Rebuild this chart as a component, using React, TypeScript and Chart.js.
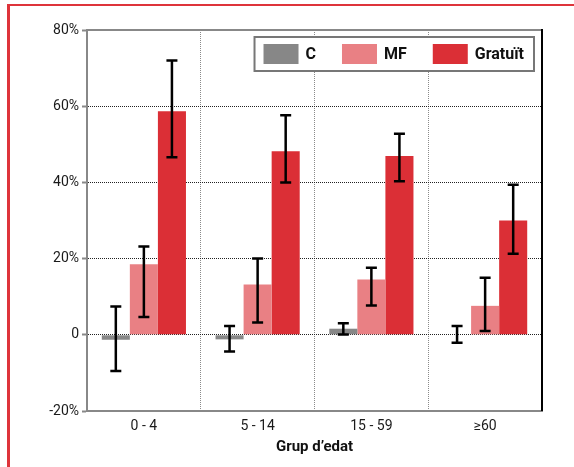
import React, { useEffect, useRef } from 'react';
import { Chart, registerables } from 'chart.js';

Chart.register(...registerables);

const categories = ['0 - 4', '5 - 14', '15 - 59', '≥60'];
const seriesNames = ['C', 'MF', 'Gratuït'];
const seriesColors = ['#878787', '#E98084', '#DB2F36'];
const cValues = [-1.3, -1.2, 1.6, 0];
const cLow = [-9.5, -4.4, 0.1, -2.1];
const cHigh = [7.4, 2.3, 3.0, 2.3];
const mfValues = [18.5, 13.2, 14.5, 7.6];
const mfLow = [4.7, 3.2, 7.7, 1.0];
const mfHigh = [23.2, 20.0, 17.6, 15.0];
const grValues = [58.7, 48.2, 46.9, 30.0];
const grLow = [46.6, 40.0, 40.3, 21.3];
const grHigh = [72.0, 57.6, 52.8, 39.4];
const yTicks = [-20, 0, 20, 40, 60, 80];
const yTickLabels = ['-20%', '0', '20%', '40%', '60%', '80%'];
const xAxisTitle = 'Grup d’edat';

const FONT = 'Roboto';

const errorBarPlugin = {
  id: 'errorBars',
  afterDatasetsDraw(chart: any) {
    const { ctx } = chart;
    const yScale = chart.scales.y;
    chart.data.datasets.forEach((ds: any, i: number) => {
      const meta = chart.getDatasetMeta(i);
      meta.data.forEach((bar: any, j: number) => {
        const lo = ds.errLow[j];
        const hi = ds.errHigh[j];
        const x = bar.x;
        const y1 = yScale.getPixelForValue(lo);
        const y2 = yScale.getPixelForValue(hi);
        ctx.save();
        ctx.strokeStyle = '#000';
        ctx.lineWidth = 2.5;
        ctx.beginPath();
        ctx.moveTo(x, y1);
        ctx.lineTo(x, y2);
        ctx.moveTo(x - 5.5, y1);
        ctx.lineTo(x + 5.5, y1);
        ctx.moveTo(x - 5.5, y2);
        ctx.lineTo(x + 5.5, y2);
        ctx.stroke();
        ctx.restore();
      });
    });
  },
};

const framePlugin = {
  id: 'frameLines',
  afterDraw(chart: any) {
    const { ctx, chartArea } = chart;
    ctx.save();
    ctx.strokeStyle = '#888';
    ctx.lineWidth = 2;
    ctx.beginPath();
    ctx.moveTo(chartArea.left, chartArea.top);
    ctx.lineTo(chartArea.right, chartArea.top);
    ctx.stroke();
    ctx.strokeStyle = '#000';
    ctx.beginPath();
    ctx.moveTo(chartArea.right, chartArea.top - 1);
    ctx.lineTo(chartArea.right, chartArea.bottom);
    ctx.stroke();
    ctx.restore();
  },
};

const legendPlugin = {
  id: 'boxLegend',
  afterDraw(chart: any) {
    const { ctx, chartArea } = chart;
    ctx.save();
    ctx.font = `bold 16px ${FONT}`;
    const sw = 35, sh = 20, gapText = 7, gapItem = 26, padL = 9, padR = 10, h = 34;
    const labels = chart.data.datasets.map((d: any) => d.label);
    const widths = labels.map((l: string) => ctx.measureText(l).width);
    let total = padL + padR + gapItem * (labels.length - 1);
    widths.forEach((w: number) => (total += sw + gapText + w));
    const right = chartArea.right - 8;
    const top = chartArea.top + 7;
    const left = right - total;
    ctx.fillStyle = '#fff';
    ctx.fillRect(left, top, total, h);
    ctx.strokeStyle = '#777';
    ctx.lineWidth = 2;
    ctx.strokeRect(left, top, total, h);
    let x = left + padL;
    chart.data.datasets.forEach((d: any, i: number) => {
      ctx.fillStyle = d.backgroundColor;
      ctx.fillRect(x, top + 7, sw, sh);
      x += sw + gapText;
      ctx.fillStyle = '#111';
      ctx.textBaseline = 'middle';
      ctx.textAlign = 'left';
      ctx.fillText(d.label, x, top + 17.5);
      x += widths[i] + gapItem;
    });
    ctx.restore();
  },
};

export default function App() {
  const ref = useRef<HTMLCanvasElement>(null);
  useEffect(() => {
    if (!ref.current) return;
    const values = [cValues, mfValues, grValues];
    const lows = [cLow, mfLow, grLow];
    const highs = [cHigh, mfHigh, grHigh];
    const chart = new Chart(ref.current, {
      type: 'bar',
      data: {
        labels: categories,
        datasets: seriesNames.map((name, i) => ({
          label: name,
          data: values[i],
          backgroundColor: seriesColors[i],
          borderWidth: 0,
          categoryPercentage: 0.74,
          barPercentage: 1,
          errLow: lows[i],
          errHigh: highs[i],
        })) as any,
      },
      options: {
        animation: false,
        responsive: false,
        events: [],
        layout: { padding: { top: 30, right: 32, left: 0, bottom: 0 } },
        plugins: { legend: { display: false }, tooltip: { enabled: false } },
        scales: {
          x: {
            afterFit: (s: any) => { s.height = 56; },
            grid: { color: '#8a8a8a', lineWidth: 1, drawTicks: false, offset: true },
            border: { display: true, color: '#888', width: 2, dash: [1, 1] },
            ticks: { color: '#1a1a1a', font: { family: FONT, size: 14 }, padding: 7 },
            title: {
              display: true,
              text: xAxisTitle,
              color: '#111',
              font: { family: FONT, size: 15, weight: 'bold' },
              padding: { top: 0, bottom: 11 },
            },
          },
          y: {
            min: -20,
            max: 80,
            afterFit: (s: any) => { s.width = 87; },
            afterBuildTicks: (s: any) => { s.ticks = yTicks.map((v) => ({ value: v })); },
            grid: {
              color: (c: any) => (c.tick && (c.tick.value === 80 || c.tick.value === -20) ? 'rgba(0,0,0,0)' : '#222'),
              lineWidth: 1,
              drawTicks: true,
              tickLength: 5,
              tickColor: '#888',
              tickWidth: 2,
              tickBorderDash: [],
            },
            border: { display: true, color: '#888', width: 2, dash: [1, 1] },
            ticks: {
              color: '#1a1a1a',
              font: { family: FONT, size: 14 },
              padding: 3,
              callback: (v: any) => {
                const idx = yTicks.indexOf(Number(v));
                return idx >= 0 ? yTickLabels[idx] : '';
              },
            },
          },
        },
      } as any,
      plugins: [errorBarPlugin, framePlugin, legendPlugin],
    });
    return () => chart.destroy();
  }, []);

  return (
    <div style={{ position: 'fixed', left: 0, top: 0, width: 574, height: 467, background: '#fff' }}>
      <div
        style={{
          position: 'absolute',
          left: 7,
          top: 4,
          right: 0,
          bottom: 0,
          borderTop: '2px solid #DE343B',
          borderLeft: '3px solid #DE343B',
        }}
      />
      <canvas ref={ref} width={574} height={467} style={{ position: 'absolute', left: 0, top: 0 }} />
    </div>
  );
}
